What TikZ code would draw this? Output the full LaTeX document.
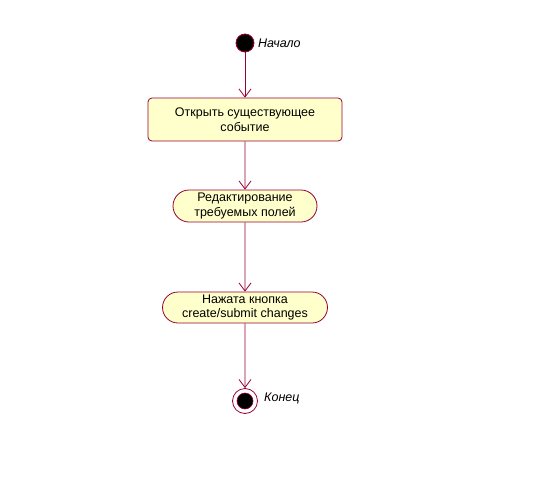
\documentclass[tikz,border=0pt]{standalone}
\usepackage{fontspec}
\setmainfont{Liberation Sans}
\usetikzlibrary{arrows.meta,shapes.misc}
\definecolor{umlline}{HTML}{990033}
\definecolor{umlfill}{HTML}{FFFFCC}
\tikzset{
  conn/.style={draw=umlline, line width=0.8pt, -{Straight Barb[length=8pt,width=12pt,line width=0.8pt]}},
  actbox/.style={draw=umlline, fill=umlfill, line width=0.8pt, rounded corners=4pt, align=center, font=\fontsize{12.5}{14.5}\selectfont, inner sep=0pt},
  actstad/.style={draw=umlline, fill=umlfill, line width=0.8pt, rounded rectangle, align=center, font=\fontsize{12.5}{14.5}\selectfont, inner sep=0pt},
  lbl/.style={font=\fontsize{12.5}{14.5}\selectfont\itshape, anchor=west, inner sep=0pt},
}
\begin{document}
\begin{tikzpicture}[x=1pt,y=-1pt]
\useasboundingbox (0,0) rectangle (539,477);
\node[circle, fill=black, draw=umlline, line width=0.8pt, minimum size=18pt, inner sep=0pt] (start) at (245,43) {};
\node[lbl] (startlbl) at (258,43) {Начало};
\node[actbox, minimum width=194pt, minimum height=43pt] (a1) at (245,119.5) {Открыть существующее\\событие};
\node[actstad, minimum width=144pt, minimum height=32pt] (a2) at (245,206) {Редактирование\\требуемых полей};
\node[actstad, minimum width=165pt, minimum height=31pt] (a3) at (245,307.5) {Нажата кнопка\\create/submit changes};
\node[circle, draw=umlline, fill=white, line width=0.8pt, minimum size=25pt, inner sep=0pt] (end) at (245,401) {};
\node[circle, fill=black, draw=umlline, line width=0.6pt, minimum size=16pt, inner sep=0pt] (endin) at (245,401) {};
\node[lbl] (endlbl) at (264,398) {Конец};
\draw[conn] (start) -- (a1);
\draw[conn] (a1) -- (a2);
\draw[conn] (a2) -- (a3);
\draw[conn] (a3) -- (end);
\end{tikzpicture}
\end{document}
